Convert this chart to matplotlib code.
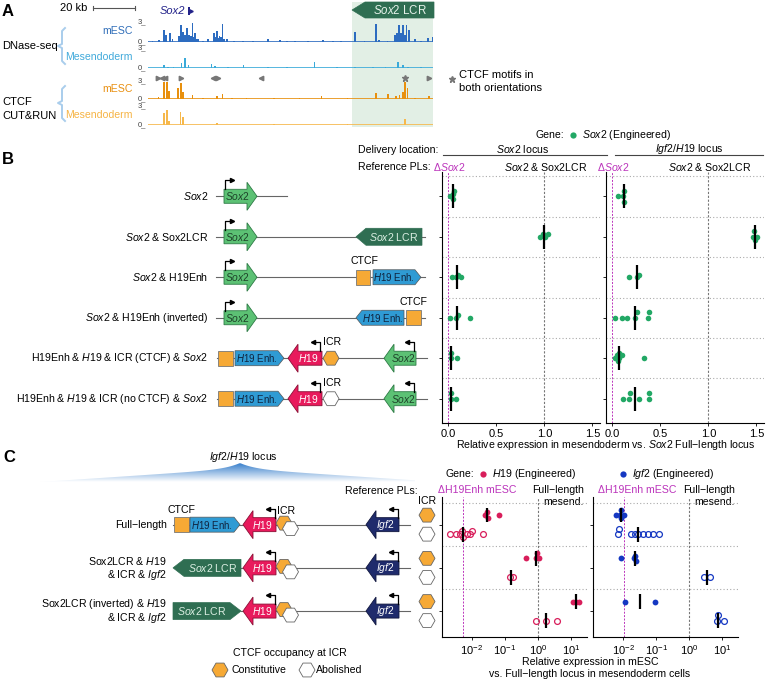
import numpy as np
import matplotlib
matplotlib.use('Agg')
import matplotlib.pyplot as plt
from matplotlib.patches import Polygon, RegularPolygon, Rectangle

plt.rcParams['font.family'] = ['Liberation Sans', 'DejaVu Sans']
plt.rcParams['mathtext.fontset'] = 'custom'
plt.rcParams['mathtext.rm'] = 'Liberation Sans'
plt.rcParams['mathtext.it'] = 'Liberation Sans:italic'
plt.rcParams['mathtext.bf'] = 'Liberation Sans:bold'
plt.rcParams['font.size'] = 7.6

# ------------------------- data ---------------------------------
# panel A: peak positions (kb) and heights (signal, clipped at 3)
dnase_esc_pos = [2.0, 5.0, 7.5, 8.4, 10.3, 11.5, 14.6, 15.0, 15.6, 16.0, 16.7, 17.5, 17.9, 18.3, 19.0, 19.5,
                 20.3, 21.0, 21.6, 22.2, 22.8, 23.5, 24.0, 26.0, 28.5, 31.3, 31.8, 32.6, 33.2, 34.0, 34.6,
                 35.4, 36.0, 37.6, 41.0, 45.0, 50.0, 57.2, 62.7, 66.0, 70.0, 76.0, 83.3, 88.0, 92.0,
                 98.4, 103.0, 108.4, 110.0, 114.0, 117.5,
                 118.5, 118.8, 119.5, 120.0, 120.5, 121.4, 122.2, 123.0, 124.3, 127.0, 130.0, 133.3, 135.4]
dnase_esc_h = [0.15, 0.3, 1.8, 1.0, 1.3, 0.5, 0.9, 0.6, 2.6, 0.7, 1.5, 1.0, 0.8, 2.1, 0.7, 1.0,
               0.9, 2.85, 0.8, 1.3, 0.5, 0.4, 0.4, 0.2, 0.5, 1.3, 0.7, 1.6, 0.6, 0.9, 0.8,
               2.7, 0.5, 0.4, 0.15, 0.15, 0.12, 0.4, 0.3, 0.12, 0.15, 0.12, 0.3, 0.12, 0.15,
               1.55, 0.15, 2.7, 0.3, 0.2, 1.1,
               1.4, 1.0, 2.6, 0.9, 1.4, 2.5, 1.0, 2.6, 1.8, 0.5, 0.2, 0.6, 0.8]
dnase_mes_pos = [7.5, 9.5, 12.0, 15.9, 17.5, 19.1, 30.2, 31.8, 38.0, 45.3, 57.2, 66.0, 79.2, 90.0,
                 98.4, 107.2, 113.0, 119.0, 121.4, 123.8, 130.0]
dnase_mes_h = [0.5, 0.25, 0.2, 0.75, 1.6, 0.5, 0.6, 0.4, 0.2, 0.5, 0.25, 0.15, 0.9, 0.15,
               0.2, 0.25, 0.15, 1.0, 0.5, 0.25, 0.15]
ctcf_esc_pos = [4.8, 7.5, 8.8, 10.0, 14.3, 15.6, 16.7, 21.1, 26.0, 32.6, 35.4, 40.0, 46.8, 60.0,
                72.0, 82.6, 95.0, 108.4, 114.3, 118.2, 119.8, 121.4, 122.5, 123.5, 127.0, 133.8]
ctcf_esc_h = [0.45, 3.0, 3.0, 1.5, 2.0, 2.8, 1.3, 0.7, 0.3, 0.55, 0.9, 0.25, 0.3, 0.2,
              0.2, 0.6, 0.2, 1.1, 0.9, 0.6, 0.7, 1.3, 3.0, 1.9, 0.3, 0.6]
ctcf_mes_pos = [7.5, 8.8, 10.0, 15.4, 16.4, 32.6, 60.0, 95.0, 122.2]
ctcf_mes_h = [1.85, 2.3, 0.6, 2.1, 1.3, 0.35, 0.15, 0.15, 0.9]
motif_pos = [4.8, 6.4, 8.0, 15.4, 30.7, 33.3, 53.5, 122.3, 133.8]
motif_dir = ['>', '<', '<', '>', '<', '>', '<', '*', '>']

# panel B: relative expression in mesendoderm
constructs_B = [r'$\it{Sox2}$',
                r'$\it{Sox2}$ & Sox2LCR',
                r'$\it{Sox2}$ & H19Enh',
                r'$\it{Sox2}$ & H19Enh (inverted)',
                r'H19Enh & $\it{H19}$ & ICR (CTCF) & $\it{Sox2}$',
                r'H19Enh & $\it{H19}$ & ICR (no CTCF) & $\it{Sox2}$']
sox2_locus = [[0.02, 0.045, 0.052, 0.062],
              [0.96, 0.99, 1.01, 1.04],
              [0.038, 0.085, 0.105, 0.132],
              [0.021, 0.085, 0.105, 0.23],
              [0.028, 0.032, 0.09],
              [0.026, 0.03, 0.078]]
igf2_locus = [[0.055, 0.115, 0.12, 0.125],
              [1.47, 1.48, 1.49, 1.51],
              [0.177, 0.26, 0.28],
              [0.028, 0.1, 0.153, 0.24, 0.253, 0.375, 0.385],
              [0.028, 0.05, 0.06, 0.066, 0.075, 0.1, 0.33],
              [0.108, 0.177, 0.188, 0.28, 0.378, 0.385]]

# panel C: relative expression in mESC (log scale)
h19_const = [[0.026, 0.029, 0.031, 0.065], [0.45, 0.85, 0.92, 1.05], [11.3, 14.3, 17.9]]
h19_abol = [[0.0023, 0.0034, 0.0046, 0.0053, 0.0057, 0.0071, 0.0093, 0.0105, 0.022],
            [0.14, 0.18], [0.89, 1.78, 3.7]]
igf2_const = [[0.006, 0.0078, 0.0082, 0.0086, 0.0102], [0.0085, 0.021, 0.023, 0.024], [0.0115, 0.091]]
igf2_abol = [[0.0070, 0.0073, 0.017, 0.022, 0.028, 0.039, 0.055, 0.078, 0.123],
             [2.72, 4.33], [6.9, 7.4, 11.0]]
ref_C = [0.0056, 0.0107]

GREEN_DOT = '#22a865'
SOX2_FILL = '#5cc174'
SOX2_EDGE = '#2d7a45'
LCR = '#2f6e52'
ENH = '#2f9bd4'
ORANGE = '#f6a935'
H19C = '#e81a5c'
IGF2_ARROW = '#1f2b6c'
H19_DOT = '#d81e5b'
IGF2_DOT = '#1538c2'
MAGENTA = '#bb33bb'
GENE_FS = 7.4
ENH_FS = 7.0

W, H = 768, 682
fig = plt.figure(figsize=(W / 100, H / 100), dpi=100)
ax0 = fig.add_axes([0, 0, 1, 1])
ax0.set_xlim(0, W)
ax0.set_ylim(H, 0)
ax0.axis('off')


def px_axes(x0, y0, x1, y1):
    a = fig.add_axes([x0 / W, 1 - y1 / H, (x1 - x0) / W, (y1 - y0) / H])
    a.set_facecolor('none')
    return a


def row_px(ax, yv):
    return H - ax.transData.transform((1, yv))[1]


def gene_arrow(x0, x1, yc, d, fc, ec, label, tc, hb=7, hh=14, hl=10):
    if d > 0:
        pts = [(x0, yc - hb), (x1 - hl, yc - hb), (x1 - hl, yc - hh), (x1, yc),
               (x1 - hl, yc + hh), (x1 - hl, yc + hb), (x0, yc + hb)]
        tx = (x0 + x1 - hl) / 2 + 2
    else:
        pts = [(x1, yc - hb), (x0 + hl, yc - hb), (x0 + hl, yc - hh), (x0, yc),
               (x0 + hl, yc + hh), (x0 + hl, yc + hb), (x1, yc + hb)]
        tx = (x0 + hl + x1) / 2 - 2
    ax0.add_patch(Polygon(pts, closed=True, fc=fc, ec=ec, lw=0.6, zorder=3))
    ax0.text(tx, yc, label, color=tc, ha='center', va='center', fontsize=GENE_FS, zorder=4)


def pentagon(x0, x1, yc, d, fc, label, tc, h=7.5, tip=6, ec='#555555', fs=ENH_FS):
    if d > 0:
        pts = [(x0, yc - h), (x1 - tip, yc - h), (x1, yc), (x1 - tip, yc + h), (x0, yc + h)]
        tx = (x0 + x1 - tip) / 2
    else:
        pts = [(x1, yc - h), (x0 + tip, yc - h), (x0, yc), (x0 + tip, yc + h), (x1, yc + h)]
        tx = (x0 + tip + x1) / 2
    ax0.add_patch(Polygon(pts, closed=True, fc=fc, ec=ec, lw=0.5, zorder=3))
    ax0.text(tx, yc, label, color=tc, ha='center', va='center', fontsize=fs, zorder=4)


def square(x0, x1, yc, h=7.5):
    ax0.add_patch(Rectangle((x0, yc - h), x1 - x0, 2 * h, fc=ORANGE, ec='#777777', lw=0.6, zorder=3))


def hexagon(xc, yc, fc, r=8):
    ax0.add_patch(RegularPolygon((xc, yc), 6, radius=r, orientation=np.pi / 6,
                                 fc=fc, ec='#666666', lw=0.6, zorder=3))


def promoter(x, yc, d, hb=7, up=9, length=7):
    yt = yc - hb - up
    ax0.plot([x, x, x + d * length], [yc - hb, yt, yt], color='k', lw=0.9, zorder=5)
    ax0.plot(x + d * length, yt, marker='>' if d > 0 else '<', ms=3, color='k', zorder=5)


def backbone(x0, x1, yc):
    ax0.plot([x0, x1], [yc, yc], color='#666666', lw=0.8, zorder=1)


def swarm(ax, xs, d_px, px_per_y):
    xp = ax.transData.transform(np.column_stack([xs, np.ones(len(xs))]))[:, 0]
    offs = np.zeros(len(xs))
    placed = []
    for i in np.argsort(xp):
        for k in [0, -1, 1, -2, 2, -3, 3]:
            oy = k * d_px * 0.5
            if all((xp[i] - a) ** 2 + (oy - b) ** 2 >= (d_px * 0.55) ** 2 for a, b in placed):
                break
        placed.append((xp[i], oy))
        offs[i] = oy / px_per_y
    return offs


# ------------------------- panel A ------------------------------
ax0.add_patch(Rectangle((352, 2), 81, 125, fc='#e2efe5', ec='none', zorder=0))
pentagon(352, 434, 10, -1, LCR, r'$\it{Sox2}$ LCR', '#e6f2ea', h=8, tip=13, ec=LCR, fs=8.3)
ax0.text(2, 12, 'A', fontsize=12, fontweight='bold', va='center')
ax0.text(60, 8, '20 kb', fontsize=8, va='center')
ax0.plot([93, 135], [8, 8], color='#555555', lw=0.8)
ax0.plot([93, 93], [6, 10], color='#555555', lw=0.8)
ax0.plot([135, 135], [6, 10], color='#555555', lw=0.8)
ax0.text(160, 11, 'Sox2', color='#23238a', style='italic', fontsize=8, va='center')
ax0.add_patch(Rectangle((188, 7), 1.8, 8, fc='#23238a', ec='none'))
ax0.plot(190.8, 11, marker='>', ms=2.5, color='#23238a')

tracks = [(dnase_esc_pos, dnase_esc_h, '#2d6cc0', 22, 42, 'mESC', '#2f6db8'),
          (dnase_mes_pos, dnase_mes_h, '#3aaad9', 48.3, 68.3, 'Mesendoderm', '#41aadb'),
          (ctcf_esc_pos, ctcf_esc_h, '#e8900e', 81.7, 99.3, 'mESC', '#e88f10'),
          (ctcf_mes_pos, ctcf_mes_h, '#f6b84c', 106, 125, 'Mesendoderm', '#f6b445')]
track_axes = []
for pos, hts, col, top, bot, lab, lcol in tracks:
    axt = px_axes(148.3, top, 433, bot)
    axt.bar(pos, hts, width=0.8, color=col, lw=0)
    axt.axhline(0.07, color=col, lw=1.2)
    axt.set_xlim(0, 135.7)
    axt.set_ylim(0, 3)
    axt.axis('off')
    track_axes.append(axt)
    ax0.text(146, top + 1, '3_', fontsize=5.5, ha='right', va='baseline', color='#444444')
    ax0.text(146, bot + 1, '0_', fontsize=5.5, ha='right', va='baseline', color='#444444')
    ax0.text(133, (top + bot) / 2 - 1, lab, fontsize=7.6, ha='right', va='center', color=lcol)

for p, m in zip(motif_pos, motif_dir):
    track_axes[2].plot(p, 3.7, marker=m, ms=3.2 if m != '*' else 4.5, color='#777777',
                       clip_on=False, lw=0)

for (y0, y1, ym) in [(28, 64, 46), (86, 121, 103)]:
    ax0.plot([65, 62, 62, 58, 62, 62, 65], [y0, y0 + 3, ym - 2, ym, ym + 2, y1 - 3, y1],
             color='#a9cdec', lw=1.4, solid_joinstyle='round')
ax0.text(2, 46, 'DNase-seq', fontsize=8, va='center')
ax0.text(2, 102, 'CTCF', fontsize=8, va='center')
ax0.text(2, 116, 'CUT&RUN', fontsize=8, va='center')
ax0.plot(452, 79, marker='*', ms=4.5, color='#777777')
ax0.text(459, 75, 'CTCF motifs in', fontsize=8, va='center')
ax0.text(459, 88, 'both orientations', fontsize=8, va='center')

# ------------------------- panel B ------------------------------
ax0.text(2, 160, 'B', fontsize=12, fontweight='bold', va='center')
axB1 = px_axes(442, 172, 600, 423)
axB2 = px_axes(606, 172, 764, 423)
for ax, data in [(axB1, sox2_locus), (axB2, igf2_locus)]:
    ax.set_xlim(-0.065, 1.58)
    ax.set_ylim(6.6, 0.4)
    for s in ['top', 'right']:
        ax.spines[s].set_visible(False)
    ax.spines['left'].set_linewidth(0.8)
    ax.spines['bottom'].set_linewidth(0.8)
    ax.set_yticks(range(1, 7))
    ax.set_yticklabels([])
    ax.set_xticks([0, 0.5, 1.0, 1.5])
    ax.set_xticklabels(['0.0', '0.5', '1.0', '1.5'], fontsize=8)
    ax.tick_params(length=2.5, width=0.6, pad=2)
    for yy in np.arange(0.5, 6, 1):
        ax.axhline(yy, color='#aaaaaa', lw=0.8, ls=(0, (1, 2)), zorder=0)
    ax.axvline(0, color=MAGENTA, lw=0.7, ls=(0, (2, 1.5)), zorder=1)
    ax.axvline(1, color='#777777', lw=0.8, ls=(0, (2, 1.5)), zorder=1)
    ppy = abs(ax.transData.transform((0, 1))[1] - ax.transData.transform((0, 2))[1])
    for i, vals in enumerate(data):
        yy = i + 1
        off = swarm(ax, vals, 5.5, ppy)
        ax.plot(vals, yy + off, 'o', color=GREEN_DOT, ms=4, mec='none', zorder=3)
        ax.vlines(np.median(vals), yy - 0.3, yy + 0.3, color='k', lw=1.6, zorder=4)

ax0.text(535, 135, 'Gene:', va='center')
ax0.plot(572.5, 135, 'o', color=GREEN_DOT, ms=4.5, mec='none')
ax0.text(582, 135, r'$\it{Sox2}$ (Engineered)', va='center')
ax0.text(358, 150, 'Delivery location:', va='center')
ax0.plot([443, 607], [155, 155], color='#444444', lw=0.8)
ax0.plot([615, 763], [155, 155], color='#444444', lw=0.8)
ax0.text(522, 149, r'$\it{Sox2}$ locus', ha='center', va='center')
ax0.text(689, 149, r'$\it{Igf2/H19}$ locus', ha='center', va='center')
ax0.text(358, 167, 'Reference PLs:', va='center')
for ax in [axB1, axB2]:
    x0p = ax.transData.transform((0, 1))[0]
    x1p = ax.transData.transform((1, 1))[0]
    ax0.text(x0p + 1, 167, 'Δ' + r'$\it{Sox2}$', color=MAGENTA, ha='center', va='center')
    ax0.text(x1p + 1, 167, r'$\it{Sox2}$ & Sox2LCR', ha='center', va='center')
ax0.text(606, 445, r'Relative expression in mesendoderm vs. $\it{Sox2}$ Full−length locus',
         ha='center', va='center')

rows_B = [row_px(axB1, i + 1) for i in range(6)]
for lab, yc in zip(constructs_B, rows_B):
    ax0.text(208, yc, lab, ha='right', va='center')
for i, yc in enumerate(rows_B):
    if i < 4:
        backbone(216, 287 if i == 0 else 425, yc)
        gene_arrow(224, 257, yc, 1, SOX2_FILL, SOX2_EDGE, r'$\it{Sox2}$', '#1d4229')
        promoter(225, yc, 1)
    if i == 1:
        pentagon(356, 422, yc, -1, LCR, r'$\it{Sox2}$ LCR', '#dcefe3', h=8.5, tip=10, ec=LCR,
                 fs=7.6)
    elif i == 2:
        square(356, 370, yc)
        pentagon(373, 421, yc, 1, ENH, r'$\it{H19}$ Enh.', '#10243f')
        ax0.text(364, yc - 16, 'CTCF', ha='center', va='center')
    elif i == 3:
        pentagon(356, 404, yc, -1, ENH, r'$\it{H19}$ Enh.', '#10243f')
        square(406, 421, yc)
        ax0.text(413, yc - 16, 'CTCF', ha='center', va='center')
    elif i >= 4:
        backbone(217, 427, yc)
        square(218, 233, yc)
        pentagon(235, 284, yc, 1, ENH, r'$\it{H19}$ Enh.', '#10243f')
        gene_arrow(288, 322, yc, -1, H19C, '#8a1035', r'$\it{H19}$', 'white')
        promoter(320, yc, -1)
        ax0.text(323, yc - 16, 'ICR', ha='left', va='center')
        hexagon(331, yc, ORANGE if i == 4 else 'white')
        gene_arrow(384, 416, yc, -1, SOX2_FILL, SOX2_EDGE, r'$\it{Sox2}$', '#1d4229')
        promoter(414, yc, -1)

# ------------------------- panel C ------------------------------
ax0.text(3, 457, 'C', fontsize=12, fontweight='bold', va='center')
axC1 = px_axes(442, 497, 587, 637)
axC2 = px_axes(593, 497, 738, 637)
panels_C = [(axC1, h19_const, h19_abol, H19_DOT, ref_C[0], (10 ** -2.89, 10 ** 1.48)),
            (axC2, igf2_const, igf2_abol, IGF2_DOT, ref_C[1], (10 ** -2.92, 10 ** 1.47))]
for ax, cons, abol, col, ref, xl in panels_C:
    ax.set_xscale('log')
    ax.set_xlim(*xl)
    ax.set_ylim(3.6, 0.36)
    for s in ['top', 'right']:
        ax.spines[s].set_visible(False)
    ax.spines['left'].set_linewidth(0.8)
    ax.spines['bottom'].set_linewidth(0.8)
    ax.set_yticks([1, 2, 3])
    ax.set_yticklabels([])
    ax.set_xticks([1e-2, 1e-1, 1e0, 1e1])
    ax.xaxis.set_minor_locator(matplotlib.ticker.NullLocator())
    ax.tick_params(length=2.5, width=0.6, pad=2, labelsize=8)
    for yy in [0.5, 1.5, 2.5]:
        ax.axhline(yy, color='#aaaaaa', lw=0.8, ls=(0, (1, 2)), zorder=0)
    ax.axvline(ref, color=MAGENTA, lw=0.7, ls=(0, (2, 1.5)), zorder=1)
    ax.axvline(1, color='#777777', lw=0.8, ls=(0, (2, 1.5)), zorder=1)
    ppy = abs(ax.transData.transform((1, 1))[1] - ax.transData.transform((1, 2))[1])
    for g in range(3):
        for vals, dy, filled in [(cons[g], -0.22, True), (abol[g], 0.22, False)]:
            yy = g + 1 + dy
            off = swarm(ax, vals, 5.5, ppy)
            if filled:
                ax.plot(vals, yy + off, 'o', color=col, ms=4.2, mec='none', zorder=3)
            else:
                ax.plot(vals, yy + off, 'o', mfc='none', mec=col, mew=0.9, ms=4.2, zorder=3)
            med = 10 ** np.median(np.log10(vals))
            ax.vlines(med, yy - 0.17, yy + 0.17, color='k', lw=1.6, zorder=4)

ax0.text(446, 474, 'Gene:', va='center')
ax0.plot(483, 474, 'o', color=H19_DOT, ms=4.5, mec='none')
ax0.text(492, 474, r'$\it{H19}$ (Engineered)', va='center')
ax0.plot(623, 474, 'o', color=IGF2_DOT, ms=4.5, mec='none')
ax0.text(632, 474, r'$\it{Igf2}$ (Engineered)', va='center')
for ax, xt, xr in [(axC1, 438, 584), (axC2, 598, 735)]:
    ax0.text(xt, 490, 'ΔH19Enh mESC', color=MAGENTA, va='center')
    ax0.text(xr, 490, 'Full−length', ha='right', va='center')
    ax0.text(xr, 502, 'mesend.', ha='right', va='center')
ax0.text(590, 662, 'Relative expression in mESC', ha='center', va='center')
ax0.text(590, 674, 'vs. Full−length locus in mesendoderm cells', ha='center', va='center')

# locus sketch
xs = np.linspace(40, 415, 300)
dd = np.abs(xs - 240)
prof = 482 - 19 * (0.3 * np.exp(-dd / 15) + 0.7 * np.clip(1 - dd / 200, 0, 1))
grad = np.linspace(0, 1, 50)[:, None] * np.ones((1, 2))
im = ax0.imshow(grad, extent=(40, 415, 482, 462), cmap=matplotlib.colors.LinearSegmentedColormap.from_list(
    'bl', ['#2f79c9', '#ffffff']), aspect='auto', zorder=1)
clip = Polygon(np.column_stack([np.r_[xs, 415, 40], np.r_[prof, 482, 482]]), closed=True,
               transform=ax0.transData, fc='none', ec='none')
ax0.add_patch(clip)
im.set_clip_path(clip)
ax0.text(243, 457, r'$\it{Igf2/H19}$ locus', ha='center', va='center')
ax0.text(418, 491, 'Reference PLs:', ha='right', va='center')
ax0.text(427, 501, 'ICR', ha='center', va='center')

rows_C = [row_px(axC1, g + 1) for g in range(3)]
ax0.text(167, rows_C[0], 'Full−length', ha='right', va='center')
ax0.text(167, rows_C[1] - 7, r'Sox2LCR & $\it{H19}$', ha='right', va='center')
ax0.text(167, rows_C[1] + 7, r'& ICR & $\it{Igf2}$', ha='right', va='center')
ax0.text(167, rows_C[2] - 7, r'Sox2LCR (inverted) & $\it{H19}$', ha='right', va='center')
ax0.text(167, rows_C[2] + 7, r'& ICR & $\it{Igf2}$', ha='right', va='center')
for g, yc in enumerate(rows_C):
    if g == 0:
        backbone(173, 410, yc)
        square(174, 189, yc)
        pentagon(190, 240, yc, 1, ENH, r'$\it{H19}$ Enh.', '#10243f')
        ax0.text(181, yc - 15, 'CTCF', ha='center', va='center')
    else:
        backbone(241, 410, yc)
        pentagon(173, 241, yc, -1 if g == 1 else 1, LCR, r'$\it{Sox2}$ LCR', '#dcefe3',
                 h=8.5, tip=11, ec=LCR, fs=7.6)
    gene_arrow(243, 276, yc, -1, H19C, '#8a1035', r'$\it{H19}$', 'white')
    promoter(275, yc, -1)
    if g == 0:
        ax0.text(277, yc - 14, 'ICR', ha='left', va='center')
    hexagon(284, yc - 1.5, ORANGE)
    hexagon(290.5, yc + 4, 'white')
    gene_arrow(366, 399, yc, -1, IGF2_ARROW, '#10163d', r'$\it{Igf2}$', 'white')
    promoter(398, yc, -1)
    hexagon(427, row_px(axC1, g + 1 - 0.22), ORANGE)
    hexagon(427, row_px(axC1, g + 1 + 0.22), 'white')

ax0.text(290, 653, 'CTCF occupancy at ICR', ha='center', va='center')
hexagon(220, 670, ORANGE)
ax0.text(231, 670, 'Constitutive', va='center')
hexagon(307, 670, 'white')
ax0.text(316, 670, 'Abolished', va='center')

fig.savefig('out.png', dpi=100)
